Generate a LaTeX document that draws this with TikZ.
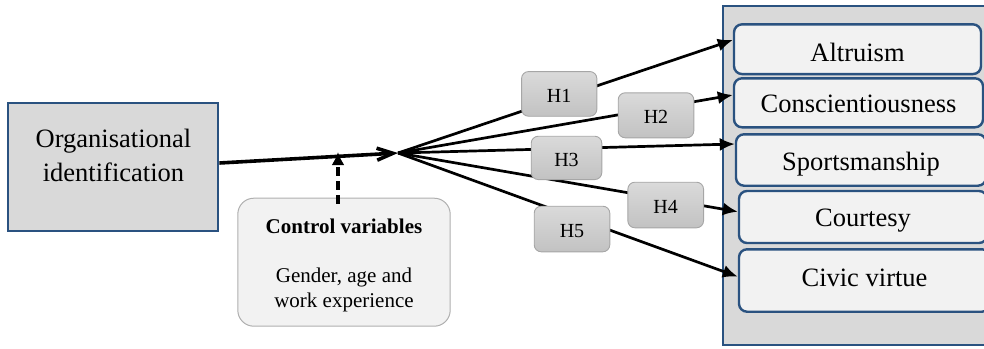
\documentclass[tikz,border=0pt]{standalone}
\usepackage{fontspec}
\setmainfont{Liberation Serif}
\usetikzlibrary{arrows.meta,calc}
\definecolor{bblue}{HTML}{2A5280}
\definecolor{panelgray}{HTML}{D9D9D9}
\definecolor{boxfill}{HTML}{F2F2F2}
\definecolor{htop}{HTML}{DADADA}
\definecolor{hbot}{HTML}{C2C2C2}
\definecolor{hborder}{HTML}{A6A6A6}
\definecolor{ctrlborder}{HTML}{AFAFAF}
\begin{document}
\begin{tikzpicture}[x=1pt,y=-1pt,
  orgbox/.style={draw=bblue,line width=2.2pt,fill=panelgray,inner sep=0pt},
  panelbox/.style={draw=bblue,line width=2.2pt,fill=panelgray,inner sep=0pt},
  ocbbox/.style={draw=bblue,line width=2.4pt,fill=boxfill,rounded corners=8pt,inner sep=0pt,
    font=\fontsize{26.5}{32}\selectfont,text depth=0pt},
  ctrlbox/.style={draw=ctrlborder,line width=1pt,fill=boxfill,rounded corners=16pt,inner sep=0pt},
  hbox/.style={draw=hborder,line width=0.9pt,rounded corners=7pt,top color=htop,bottom color=hbot,
    inner sep=0pt,font=\fontsize{20}{24}\selectfont,text height=16.3pt,text depth=0pt},
  bigtxt/.style={font=\fontsize{26.5}{32}\selectfont,anchor=base,inner sep=0pt},
  ctrltxt/.style={font=\fontsize{21}{25}\selectfont,anchor=base,inner sep=0pt},
  harrow/.style={line width=2.7pt,-{Latex[length=15pt,width=13pt]}},
  mainline/.style={line width=3.6pt,-{Straight Barb[length=16pt,width=12pt]}},
  dashline/.style={line width=3.6pt,dash pattern=on 9pt off 5pt,-{Latex[length=13pt,width=13pt]}}
]
\useasboundingbox (0,0) rectangle (984,348);

% left box
\node[orgbox,minimum width=210pt,minimum height=128pt] (org) at (113.3,166.7) {};
\node[bigtxt] (orgt1) at (113.5,147) {Organisational};
\node[bigtxt] (orgt2) at (113.5,181) {identification};

% control box
\node[ctrlbox,minimum width=212.4pt,minimum height=128pt] (ctrl) at (344,262.2) {};
\node[ctrltxt,font=\fontsize{21}{25}\selectfont\bfseries] (ctrlt1) at (344,233) {Control variables};
\node[ctrltxt] (ctrlt2) at (344,282) {Gender, age and};
\node[ctrltxt] (ctrlt3) at (344,307) {work experience};

% right panel
\begin{scope}
\clip (0,0) rectangle (984,348);
\node[panelbox,minimum width=277pt,minimum height=339pt] (panel) at (861.5,175.5) {};
\node[ocbbox,minimum width=247pt,minimum height=49.7pt,text height=23.6pt] (alt) at (857.5,49.2) {Altruism};
\node[ocbbox,minimum width=249pt,minimum height=49pt,text height=19.8pt] (con) at (858.5,102.8) {Conscientiousness};
\node[ocbbox,minimum width=250pt,minimum height=51.4pt,text height=20pt] (spo) at (861,160) {Sportsmanship};
\node[ocbbox,minimum width=248pt,minimum height=52pt,text height=19.4pt] (cou) at (863,217) {Courtesy};
\node[ocbbox,minimum width=251pt,minimum height=62.4pt,text height=11pt] (civ) at (864.5,280.5) {Civic virtue};
\end{scope}

% connectors
\coordinate (j) at (398,153);
\coordinate (ctip) at (338,152);
\draw[mainline] ([yshift=3.7pt]org.east) -- (j);
\draw[harrow] (j) -- ([yshift=9.2pt]alt.west);
\draw[harrow] (j) -- ([yshift=7.8pt]con.west);
\draw[harrow] (j) -- ([yshift=16pt]spo.west);
\draw[harrow] (j) -- ([yshift=5.3pt]cou.west);
\draw[harrow] (j) -- ([yshift=3.8pt]civ.west);
\draw[dashline] ([xshift=-6pt,yshift=-6pt]ctrl.north) -- (ctip);

% hypothesis labels
\node[hbox,minimum width=75.3pt,minimum height=44.7pt] (h1) at (559.2,93.9) {H1};
\node[hbox,minimum width=75.6pt,minimum height=45pt] (h2) at (656,115.3) {H2};
\node[hbox,minimum width=70.6pt,minimum height=43.3pt] (h3) at (566.5,157.9) {H3};
\node[hbox,minimum width=75.7pt,minimum height=45.6pt] (h4) at (665.7,205) {H4};
\node[hbox,minimum width=75.6pt,minimum height=45.6pt] (h5) at (572,229) {H5};
\end{tikzpicture}
\end{document}
